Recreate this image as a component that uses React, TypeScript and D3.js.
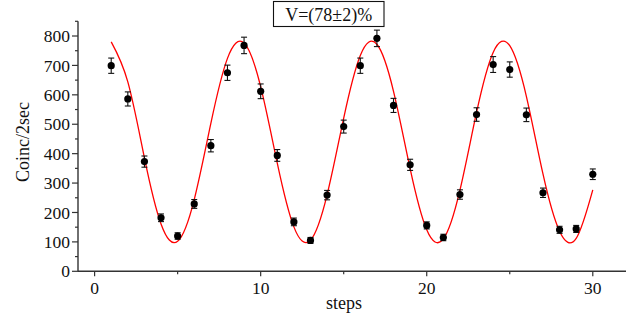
import React, { useEffect, useRef } from 'react';
import * as d3 from 'd3';

// measured coincidence counts per step
const steps = [1, 2, 3, 4, 5, 6, 7, 8, 9, 10, 11, 12, 13, 14, 15, 16, 17, 18, 19, 20, 21, 22, 23, 24, 25, 26, 27, 28, 29, 30];
const counts = [699, 586, 373, 182, 120, 229, 427, 675, 768, 612, 394, 168, 105, 259, 492, 699, 792, 564, 362, 156, 115, 261, 533, 703, 686, 532, 267, 141, 144, 330];
const errors = [26, 24, 19, 13, 11, 15, 21, 26, 28, 25, 20, 13, 10, 16, 22, 26, 28, 24, 19, 12, 11, 16, 23, 27, 26, 23, 16, 12, 12, 18];

// fitted curve
const fitX = [1, 2, 3, 4, 5, 6, 7, 8, 9, 10, 11, 12, 13, 14, 15, 16, 17, 18, 19, 20, 21, 22, 23, 24, 25, 26, 27, 28, 29, 30];
const fitY = [780, 644, 386, 161, 102, 244, 503, 724, 776, 628, 368, 151, 106, 260, 521, 734, 772, 612, 349, 141, 110, 276, 540, 744, 767, 595, 331, 136, 112, 277];

const xTicks = [0, 10, 20, 30];
const xMinor = [5, 15, 25];
const yTicks = [0, 100, 200, 300, 400, 500, 600, 700, 800];
const yMinor = [50, 150, 250, 350, 450, 550, 650, 750, 850];

const title = 'V=(78±2)%';
const FONT = '"Liberation Serif", "Times New Roman", serif';

const W = 639;
const H = 320;

const App: React.FC = () => {
  const svgRef = useRef<SVGSVGElement>(null);

  useEffect(() => {
    if (!svgRef.current) return;
    const svg = d3.select(svgRef.current);
    svg.selectAll('*').remove();

    const x = d3.scaleLinear().domain([-1, 32]).range([78, 626]);
    const y = d3.scaleLinear().domain([0, 850]).range([271.3, 21.3]);
    const axisColor = '#333';

    // Axes lines
    svg.append('line')
      .attr('x1', x(-1)).attr('x2', x(32))
      .attr('y1', y(0)).attr('y2', y(0))
      .attr('stroke', axisColor).attr('stroke-width', 1.4);
    svg.append('line')
      .attr('x1', x(-1)).attr('x2', x(-1))
      .attr('y1', y(0)).attr('y2', y(850))
      .attr('stroke', axisColor).attr('stroke-width', 1.4);

    // x ticks
    xTicks.forEach(t => {
      svg.append('line')
        .attr('x1', x(t)).attr('x2', x(t))
        .attr('y1', y(0)).attr('y2', y(0) + 5)
        .attr('stroke', axisColor).attr('stroke-width', 1.2);
      svg.append('text')
        .attr('x', x(t)).attr('y', y(0) + 23)
        .attr('text-anchor', 'middle')
        .style('font-family', FONT).style('font-size', '17.5px').style('fill', '#111')
        .text(t);
    });
    xMinor.forEach(t => {
      svg.append('line')
        .attr('x1', x(t)).attr('x2', x(t))
        .attr('y1', y(0)).attr('y2', y(0) + 3)
        .attr('stroke', axisColor).attr('stroke-width', 1.2);
    });

    // y ticks
    yTicks.forEach(t => {
      svg.append('line')
        .attr('x1', x(-1) - 6).attr('x2', x(-1))
        .attr('y1', y(t)).attr('y2', y(t))
        .attr('stroke', axisColor).attr('stroke-width', 1.2);
      svg.append('text')
        .attr('x', x(-1) - 8).attr('y', y(t))
        .attr('dy', '0.35em')
        .attr('text-anchor', 'end')
        .style('font-family', FONT).style('font-size', '17.5px').style('fill', '#111')
        .text(t);
    });
    yMinor.forEach(t => {
      svg.append('line')
        .attr('x1', x(-1) - 3).attr('x2', x(-1))
        .attr('y1', y(t)).attr('y2', y(t))
        .attr('stroke', axisColor).attr('stroke-width', 1.2);
    });

    // axis titles
    svg.append('text')
      .attr('x', 344).attr('y', 309)
      .attr('text-anchor', 'middle')
      .style('font-family', FONT).style('font-size', '18px').style('fill', '#111')
      .text('steps');
    svg.append('text')
      .attr('transform', 'translate(29,142) rotate(-90)')
      .attr('text-anchor', 'middle')
      .style('font-family', FONT).style('font-size', '18px').style('fill', '#111')
      .text('Coinc/2sec');

    // fit curve
    const line = d3.line<number>()
      .x((_, i) => x(fitX[i]))
      .y(d => y(d))
      .curve(d3.curveNatural);
    svg.append('path')
      .attr('d', line(fitY) || '')
      .attr('fill', 'none')
      .attr('stroke', '#ff0000')
      .attr('stroke-width', 1.3);

    // error bars + points
    steps.forEach((s, i) => {
      const cx = x(s);
      const lo = y(counts[i] - errors[i]);
      const hi = y(counts[i] + errors[i]);
      const g = svg.append('g').attr('stroke', '#111').attr('stroke-width', 1.1);
      g.append('line').attr('x1', cx).attr('x2', cx).attr('y1', lo).attr('y2', hi);
      g.append('line').attr('x1', cx - 3).attr('x2', cx + 3).attr('y1', lo).attr('y2', lo);
      g.append('line').attr('x1', cx - 3).attr('x2', cx + 3).attr('y1', hi).attr('y2', hi);
      svg.append('circle')
        .attr('cx', cx).attr('cy', y(counts[i]))
        .attr('r', 3.6)
        .attr('fill', '#000');
    });

    // title box
    svg.append('rect')
      .attr('x', 273.5).attr('y', 1.5)
      .attr('width', 110.5).attr('height', 25)
      .attr('fill', '#fff').attr('stroke', '#111').attr('stroke-width', 1.1);
    svg.append('text')
      .attr('x', 328.7).attr('y', 20.5)
      .attr('text-anchor', 'middle')
      .style('font-family', FONT).style('font-size', '18px').style('fill', '#111')
      .text(title);
  }, []);

  return (
    <svg
      ref={svgRef}
      width={W}
      height={H}
      style={{ position: 'absolute', left: 0, top: 0, background: '#fff' }}
    />
  );
};

export default App;
